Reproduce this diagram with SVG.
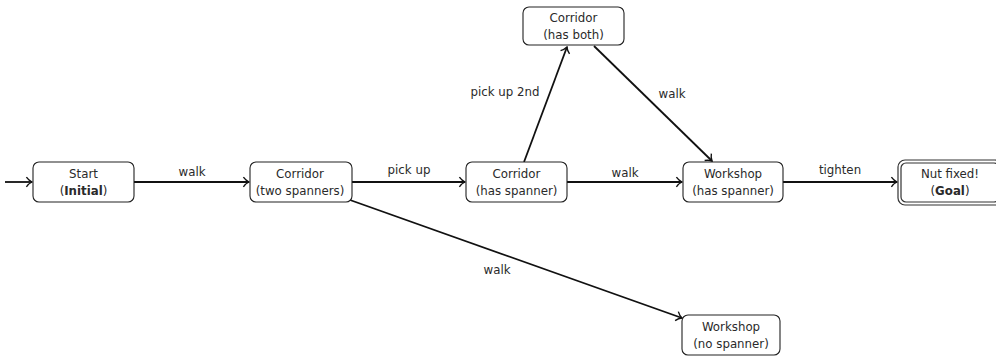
<svg xmlns="http://www.w3.org/2000/svg" width="996" height="356" viewBox="0 0 996 356">
<defs>
<style>
.n{fill:#fff;stroke:#222;stroke-width:1.1}
.t{font-family:"DejaVu Sans","Liberation Sans",sans-serif;font-size:11.8px;fill:#2a2a2a;text-anchor:middle}
.b{font-weight:bold}
.e{stroke:#111;stroke-width:1.8;fill:none;marker-end:url(#ah)}
</style>
<marker id="ah" viewBox="0 0 10 14" refX="9" refY="7" markerWidth="8" markerHeight="13" markerUnits="userSpaceOnUse" orient="auto">
<path d="M2,1 Q5,5.2 9,7 Q5,8.8 2,13" fill="none" stroke="#111" stroke-width="1.7"/>
</marker>
</defs>
<rect width="996" height="356" fill="#fff"/>
<g id="edges">
<line class="e" x1="5" y1="182" x2="32" y2="182"/>
<line class="e" x1="134" y1="182" x2="249" y2="182"/>
<line class="e" x1="352" y1="182" x2="465" y2="182"/>
<line class="e" x1="567" y1="182" x2="682" y2="182"/>
<line class="e" x1="783" y1="182" x2="897" y2="182"/>
<line class="e" x1="524" y1="162" x2="567" y2="47"/>
<line class="e" x1="594" y1="46" x2="712" y2="161"/>
<line class="e" x1="350" y1="200" x2="682" y2="318"/>
<text class="t" x="192" y="176">walk</text>
<text class="t" x="409" y="174">pick up</text>
<text class="t" x="625" y="177">walk</text>
<text class="t" x="840" y="174">tighten</text>
<text class="t" x="505" y="96">pick up 2nd</text>
<text class="t" x="672" y="98">walk</text>
<text class="t" x="497" y="274">walk</text>
</g>
<g id="start">
<rect class="n" x="33" y="162" width="101" height="40" rx="6"/>
<text class="t" x="83.5" y="178">Start</text>
<text class="t" x="83.5" y="195">(<tspan class="b">Initial</tspan>)</text>
</g>
<g id="corridor_two">
<rect class="n" x="250" y="162" width="102" height="40" rx="6"/>
<text class="t" x="300" y="178">Corridor</text>
<text class="t" x="300" y="195">(two spanners)</text>
</g>
<g id="corridor_has">
<rect class="n" x="466" y="162" width="101" height="40" rx="6"/>
<text class="t" x="516.5" y="178">Corridor</text>
<text class="t" x="516.5" y="195">(has spanner)</text>
</g>
<g id="corridor_both">
<rect class="n" x="523" y="7" width="101" height="38" rx="6"/>
<text class="t" x="573.5" y="22">Corridor</text>
<text class="t" x="573.5" y="39">(has both)</text>
</g>
<g id="workshop_has">
<rect class="n" x="683" y="162" width="100" height="40" rx="6"/>
<text class="t" x="733" y="178">Workshop</text>
<text class="t" x="733" y="195">(has spanner)</text>
</g>
<g id="workshop_no">
<rect class="n" x="682" y="315" width="98" height="40" rx="6"/>
<text class="t" x="731" y="331">Workshop</text>
<text class="t" x="731" y="348">(no spanner)</text>
</g>
<g id="goal">
<rect x="898" y="160" width="104" height="45" rx="7" fill="#fff" stroke="#333" stroke-width="1.2"/>
<rect x="901" y="163" width="98" height="39" rx="5" fill="#fff" stroke="#333" stroke-width="1.2"/>
<text class="t" x="950" y="178">Nut fixed!</text>
<text class="t" x="950" y="195">(<tspan class="b">Goal</tspan>)</text>
</g>
</svg>
